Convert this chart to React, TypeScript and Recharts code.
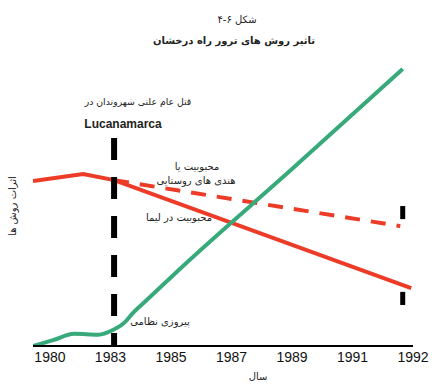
import React from 'react';
import { LineChart, Line, XAxis, YAxis, ReferenceLine } from 'recharts';

// tick labels sit at evenly spaced positions, not on a linear year scale
const yearLabels = ['1980', '1983', '1985', '1987', '1989', '1991', '1992'];
const tickPositions = [0, 1, 2, 3, 4, 5, 6];

// popularity in Lima (solid red)
const limaX = [-0.28, 0.55, 1.06, 5.97];
const limaY = [56.7, 59.1, 57.0, 19.9];

// popularity among rural Indians (dashed red)
const ruralX = [1.06, 5.79];
const ruralY = [57.0, 41.2];

// military victory (green)
const militaryX = [-0.28, 0.05, 0.4, 0.8, 1.04, 1.24, 1.37, 1.6, 2.2, 4, 5.83];
const militaryY = [0, 2.0, 4.2, 3.9, 5.5, 8.2, 11.3, 15.8, 27.5, 60.8, 95.2];

// Lucanamarca massacre marker and the two end marks
const massacreX = 1.06;
const massacreTop = 71.5;
const endMarkX = 5.83;
const endMarks = [
  [43.6, 48.1],
  [14.1, 18.6],
];

const toPoints = (xs: number[], ys: number[]) => xs.map((x, i) => ({ x, y: ys[i] }));

const limaData = toPoints(limaX, limaY);
const ruralData = toPoints(ruralX, ruralY);
const militaryData = toPoints(militaryX, militaryY);

const RED = '#ec3b26';
const GREEN = '#38a97a';
const FA = '"DejaVu Sans", sans-serif';

const Note = ({ x, y, size = 10, bold = false, font = FA, children }: any) => (
  <div
    dir="rtl"
    style={{
      position: 'absolute',
      left: x,
      top: y,
      transform: 'translate(-50%, -50%)',
      whiteSpace: 'nowrap',
      fontFamily: font,
      fontSize: size,
      fontWeight: bold ? 'bold' : 'normal',
      lineHeight: 1,
      color: '#222',
    }}
  >
    {children}
  </div>
);

export default function App() {
  return (
    <div style={{ position: 'absolute', left: 0, top: 0, width: 443, height: 387, background: '#fff' }}>
      <LineChart width={443} height={387} margin={{ top: 55, right: 30, bottom: 0, left: 33 }}>
        <XAxis
          type="number"
          dataKey="x"
          domain={[-0.28, 6]}
          allowDataOverflow
          ticks={tickPositions}
          tickFormatter={(v: number) => yearLabels[v]}
          axisLine={{ stroke: '#000', strokeWidth: 2 }}
          tickLine={false}
          tickSize={6}
          tickMargin={0}
          height={41}
          tick={{ fill: '#111', fontSize: 14, fontFamily: '"Liberation Sans", Arial, sans-serif' }}
        />
        <YAxis
          type="number"
          dataKey="y"
          domain={[0, 100]}
          allowDataOverflow
          width={0}
          tick={false}
          tickLine={false}
          axisLine={{ stroke: '#000', strokeWidth: 2 }}
        />
        <Line
          data={limaData}
          dataKey="y"
          type="linear"
          stroke={RED}
          strokeWidth={4}
          dot={false}
          isAnimationActive={false}
        />
        <Line
          data={ruralData}
          dataKey="y"
          type="linear"
          stroke={RED}
          strokeWidth={4}
          strokeDasharray="15 11"
          dot={false}
          isAnimationActive={false}
        />
        <Line
          data={militaryData}
          dataKey="y"
          type="monotone"
          stroke={GREEN}
          strokeWidth={4}
          dot={false}
          isAnimationActive={false}
        />
        <ReferenceLine
          segment={[
            { x: massacreX, y: massacreTop },
            { x: massacreX, y: 0 },
          ]}
          stroke="#000"
          strokeWidth={6}
          strokeDasharray="22 17"
        />
        {endMarks.map(([lo, hi], i) => (
          <ReferenceLine
            key={i}
            segment={[
              { x: endMarkX, y: hi },
              { x: endMarkX, y: lo },
            ]}
            stroke="#000"
            strokeWidth={5}
          />
        ))}
      </LineChart>

      <Note x={237} y={20} size={10}>شکل ۶-۴</Note>
      <Note x={234} y={41} size={10} bold>تاثیر روش های ترور راه درخشان</Note>
      <Note x={138} y={102} size={9.3}>قتل عام علنی شهروندان در</Note>
      <Note x={123} y={124} size={12} bold font='"Liberation Sans", Arial, sans-serif'>Lucanamarca</Note>
      <Note x={197} y={167} size={10}>محبوبیت یا</Note>
      <Note x={196} y={181} size={10}>هندی های روستایی</Note>
      <Note x={179} y={218} size={10}>محبوبیت در لیما</Note>
      <Note x={160} y={322} size={10}>پیروزی نظامی</Note>
      <Note x={258} y={377} size={10}>سال</Note>
      <div
        dir="rtl"
        style={{
          position: 'absolute',
          left: 13,
          top: 206,
          transform: 'translate(-50%, -50%) rotate(-90deg)',
          whiteSpace: 'nowrap',
          fontFamily: FA,
          fontSize: 10,
          lineHeight: 1,
          color: '#222',
        }}
      >
        اثرات روش ها
      </div>
    </div>
  );
}
